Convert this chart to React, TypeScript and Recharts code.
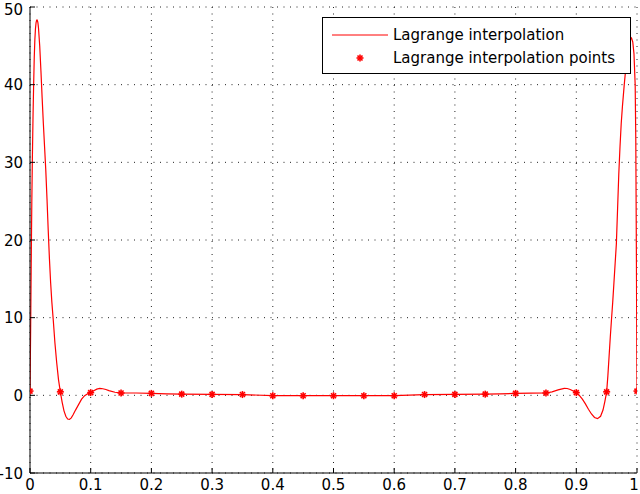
import React from 'react';
import { ComposedChart, Line, Scatter, XAxis, YAxis, CartesianGrid, Legend } from 'recharts';

const curveX = [
  0, 0.001, 0.002, 0.003, 0.004, 0.005, 0.006, 0.007, 0.008, 0.009, 0.01, 0.011, 0.012, 0.013, 0.014,
  0.016, 0.018, 0.02, 0.022, 0.024, 0.026, 0.028, 0.03, 0.032, 0.034, 0.036, 0.0385, 0.041, 0.044, 0.047,
  0.05, 0.053, 0.056, 0.059, 0.062, 0.065, 0.068, 0.071, 0.075, 0.08, 0.085, 0.09, 0.095, 0.1, 0.105,
  0.11, 0.115, 0.12, 0.125, 0.13, 0.14, 0.15, 0.175, 0.2, 0.225, 0.25, 0.3, 0.35, 0.4, 0.45, 0.5, 0.55,
  0.6, 0.65, 0.7, 0.75, 0.775, 0.8, 0.825, 0.85, 0.86, 0.87, 0.88, 0.885, 0.89, 0.895, 0.9, 0.905, 0.91,
  0.915, 0.92, 0.925, 0.93, 0.935, 0.94, 0.944, 0.947, 0.95, 0.952, 0.954, 0.956, 0.958, 0.96, 0.962,
  0.964, 0.966, 0.968, 0.97, 0.972, 0.974, 0.976, 0.979, 0.982, 0.985, 0.988, 0.991, 0.993, 0.995,
  0.997, 0.998, 0.999, 1,
];
const curveY = [
  0.55, 8, 17, 25, 31, 36, 40, 43.5, 45.8, 47.2, 48, 48.3, 48.3, 48, 47.3,
  45, 41.8, 38.3, 35, 32, 29, 25.3, 21.3, 17.6, 14.5, 12, 9.5, 6.8, 4.2, 2,
  0.45, -0.9, -2, -2.7, -3.05, -3.1, -2.9, -2.5, -1.9, -1.2, -0.5, -0.05, 0.2, 0.35, 0.6,
  0.8, 0.9, 0.85, 0.75, 0.6, 0.4, 0.3, 0.3, 0.25, 0.2, 0.15, 0.12, 0.1, -0.05, -0.05, -0.05, -0.05,
  -0.05, 0.1, 0.12, 0.15, 0.2, 0.25, 0.28, 0.3, 0.45, 0.7, 0.9, 0.88, 0.75, 0.55, 0.35, 0, -0.5,
  -1.1, -1.8, -2.4, -2.85, -3, -2.7, -1.9, -0.8, 0.45, 2.5, 5, 7.5, 9.8, 12, 14.5,
  17, 19.5, 24, 28.5, 32, 35, 37.2, 40, 42.5, 44.5, 45.7, 46, 45.5, 44,
  40, 33, 18, 0.55,
];

const pointX = [0, 0.05, 0.1, 0.15, 0.2, 0.25, 0.3, 0.35, 0.4, 0.45, 0.5, 0.55, 0.6, 0.65, 0.7, 0.75, 0.8, 0.85, 0.9, 0.95, 1];
const pointY = [0.55, 0.45, 0.35, 0.3, 0.25, 0.15, 0.12, 0.1, -0.05, -0.05, -0.05, -0.05, -0.05, 0.1, 0.12, 0.15, 0.25, 0.3, 0.35, 0.45, 0.55];

const xTicks = [0, 0.1, 0.2, 0.3, 0.4, 0.5, 0.6, 0.7, 0.8, 0.9, 1];
const xTickLabels = ['0', '0.1', '0.2', '0.3', '0.4', '0.5', '0.6', '0.7', '0.8', '0.9', '1'];
const yTicks = [-10, 0, 10, 20, 30, 40, 50];

const seriesNames = ['Lagrange interpolation', 'Lagrange interpolation points'];

const curveData = curveX.map((x, i) => ({ x, y: curveY[i] }));
const pointData = pointX.map((x, i) => ({ x, y: pointY[i] }));

const FONT = 'DejaVu Sans';
const RED = '#ff0000';

const Star = ({ cx, cy }: any) => {
  if (cx == null || cy == null) return null;
  const r = 3.5;
  const d = 2.5;
  return (
    <g stroke={RED} strokeWidth={1.6}>
      <line x1={cx - r} x2={cx + r} y1={cy} y2={cy} />
      <line x1={cx} x2={cx} y1={cy - r} y2={cy + r} />
      <line x1={cx - d} x2={cx + d} y1={cy - d} y2={cy + d} />
      <line x1={cx - d} x2={cx + d} y1={cy + d} y2={cy - d} />
    </g>
  );
};

const XTick = ({ x, y, payload }: any) => {
  const idx = xTicks.indexOf(payload.value);
  const label = idx >= 0 ? xTickLabels[idx] : String(payload.value);
  const tx = Math.min(x, 634);
  return (
    <g>
      <line x1={x} x2={x} y1={y} y2={y - 5} stroke="#000" />
      <text x={tx} y={y + 17} textAnchor="middle" fontFamily={FONT} fontSize={15} fill="#000">
        {label}
      </text>
    </g>
  );
};

const YTick = ({ x, y, payload }: any) => (
  <g>
    <line x1={x} x2={x + 5} y1={y} y2={y} stroke="#000" />
    <text x={x - 7} y={Math.max(y + 5.5, 15)} textAnchor="end" fontFamily={FONT} fontSize={15} fill="#000">
      {String(payload.value)}
    </text>
  </g>
);

const LegendBox = () => (
  <div
    style={{
      boxSizing: 'border-box',
      width: 309,
      height: 57,
      border: '1px solid #000',
      background: '#fff',
      position: 'relative',
    }}
  >
    <svg width={309} height={57} style={{ position: 'absolute', left: -1, top: -1 }}>
      <line x1={10} x2={66} y1={18} y2={18} stroke={RED} strokeWidth={1} />
      <Star cx={38} cy={41} />
      <text x={71} y={18} dy="0.36em" fontFamily={FONT} fontSize={15} fill="#000">
        {seriesNames[0]}
      </text>
      <text x={71} y={41} dy="0.36em" fontFamily={FONT} fontSize={15} fill="#000">
        {seriesNames[1]}
      </text>
    </svg>
  </div>
);

export default function App() {
  return (
    <div style={{ position: 'absolute', left: 0, top: 0, background: '#fff' }}>
      <ComposedChart width={640} height={494} margin={{ top: 7, right: 3, bottom: 0, left: 0 }}>
        <CartesianGrid stroke="#222" strokeDasharray="1 5.5" />
        <XAxis
          type="number"
          dataKey="x"
          domain={[0, 1]}
          ticks={xTicks}
          interval={0}
          allowDataOverflow
          height={21}
          tickSize={0}
          tickMargin={0}
          tickLine={false}
          axisLine={{ stroke: '#000' }}
          tick={<XTick />}
        />
        <YAxis
          type="number"
          dataKey="y"
          domain={[-10, 50]}
          ticks={yTicks}
          interval={0}
          allowDataOverflow
          width={30}
          tickSize={0}
          tickMargin={0}
          tickLine={false}
          axisLine={{ stroke: '#000' }}
          tick={<YTick />}
        />
        <Line
          data={curveData}
          dataKey="y"
          type="linear"
          stroke={RED}
          strokeWidth={1.2}
          dot={false}
          activeDot={false}
          isAnimationActive={false}
          name={seriesNames[0]}
        />
        <Scatter
          data={pointData}
          dataKey="y"
          fill={RED}
          shape={<Star />}
          isAnimationActive={false}
          name={seriesNames[1]}
        />
        <Legend
          layout="vertical"
          align="center"
          verticalAlign="middle"
          wrapperStyle={{ left: 322, top: 17, width: 309, height: 57 }}
          content={<LegendBox />}
        />
      </ComposedChart>
    </div>
  );
}
